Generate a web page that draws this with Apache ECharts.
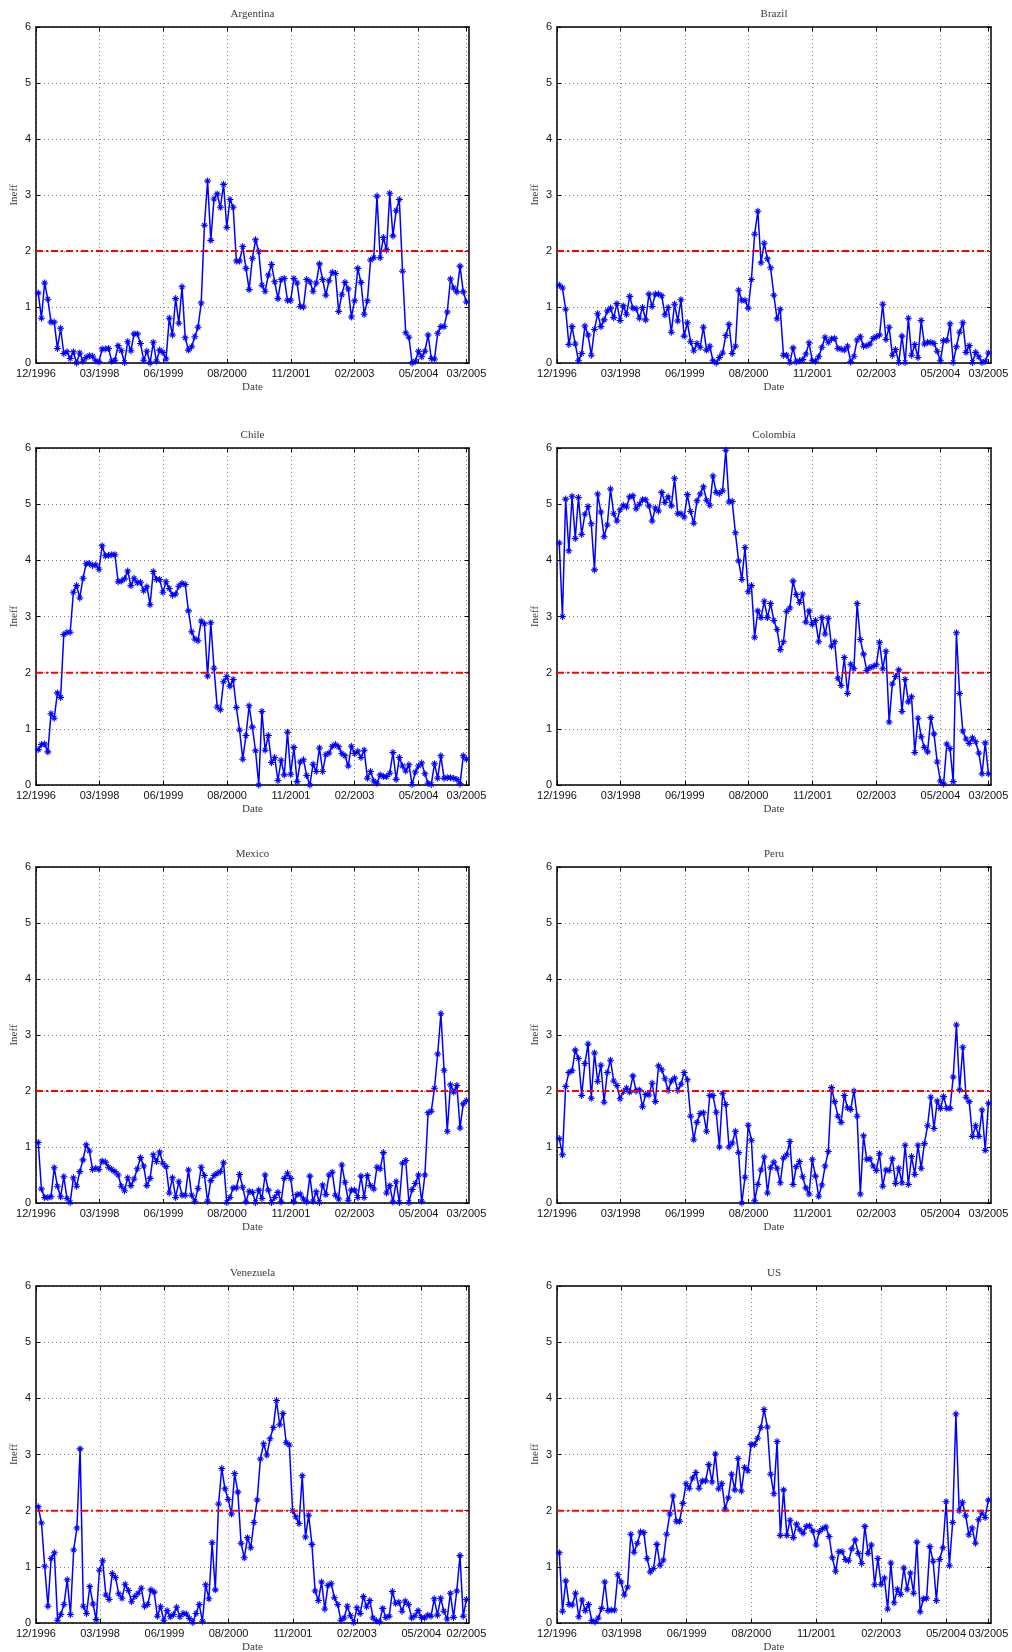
<!DOCTYPE html>
<html>
<head>
<meta charset="utf-8">
<script src="https://cdn.jsdelivr.net/npm/echarts@6/dist/echarts.min.js"></script>
<style>
  html, body { margin: 0; padding: 0; background: #ffffff; }
  #chart { width: 1012px; height: 1652px; }
</style>
</head>
<body>
<div id="chart"></div>
<script>
// Inefficiency measure per country, one observation per sampling date
const argentina = [1.25,0.80,1.43,1.14,0.73,0.73,0.26,0.62,0.17,0.20,
  0.08,0.20,0.00,0.18,0.03,0.10,0.13,0.12,0.04,0.02,
  0.25,0.25,0.26,0.03,0.05,0.31,0.22,0.01,0.38,0.22,
  0.52,0.52,0.35,0.05,0.21,0.00,0.37,0.03,0.23,0.19,
  0.07,0.80,0.50,1.15,0.71,1.36,0.45,0.23,0.29,0.47,
  0.64,1.07,2.46,3.25,2.19,2.93,3.02,2.78,3.19,2.42,
  2.92,2.78,1.82,1.82,2.08,1.69,1.31,1.87,2.20,1.99,
  1.39,1.28,1.57,1.76,1.45,1.15,1.49,1.51,1.12,1.12,
  1.51,1.43,1.01,1.00,1.49,1.45,1.28,1.43,1.77,1.49,
  1.21,1.47,1.62,1.60,0.92,1.22,1.44,1.32,0.82,1.11,
  1.69,1.44,0.87,1.11,1.84,1.88,2.98,1.88,2.24,2.02,
  3.03,2.27,2.72,2.92,1.64,0.54,0.46,0.00,0.03,0.21,
  0.11,0.21,0.50,0.08,0.07,0.53,0.65,0.65,0.91,1.50,
  1.34,1.27,1.73,1.27,1.09];

const brazil = [1.39,1.34,0.96,0.33,0.65,0.34,0.04,0.17,0.66,0.50,
  0.14,0.60,0.88,0.65,0.77,0.93,0.98,0.81,1.06,0.76,
  1.02,0.87,1.19,0.98,0.97,0.80,0.99,0.77,1.23,1.01,
  1.23,1.23,1.20,0.86,0.99,0.55,1.05,0.75,1.13,0.48,
  0.72,0.38,0.22,0.35,0.28,0.64,0.23,0.30,0.04,0.00,
  0.10,0.18,0.49,0.69,0.17,0.30,1.30,1.12,1.12,0.98,
  1.49,2.30,2.71,1.79,2.14,1.86,1.70,1.21,0.79,0.96,
  0.14,0.14,0.01,0.27,0.02,0.04,0.06,0.16,0.36,0.04,
  0.03,0.11,0.28,0.46,0.37,0.43,0.44,0.26,0.25,0.23,
  0.30,0.02,0.12,0.41,0.47,0.30,0.31,0.34,0.44,0.47,
  0.50,1.05,0.42,0.64,0.14,0.24,0.01,0.48,0.01,0.80,
  0.14,0.33,0.10,0.76,0.34,0.37,0.37,0.35,0.21,0.04,
  0.40,0.40,0.70,0.01,0.29,0.55,0.72,0.19,0.31,0.01,
  0.19,0.11,0.01,0.03,0.18];

const chile = [0.63,0.72,0.73,0.59,1.27,1.19,1.64,1.56,2.68,2.72,
  2.72,3.43,3.55,3.33,3.68,3.94,3.94,3.91,3.92,3.84,
  4.26,4.08,4.09,4.10,4.10,3.62,3.63,3.67,3.81,3.55,
  3.68,3.60,3.61,3.46,3.53,3.21,3.80,3.66,3.66,3.43,
  3.62,3.50,3.38,3.40,3.54,3.59,3.57,3.10,2.73,2.60,
  2.57,2.92,2.87,1.94,2.89,2.08,1.39,1.34,1.84,1.93,
  1.76,1.88,1.38,0.98,0.46,0.88,1.41,1.03,0.61,0.00,
  1.31,0.62,0.88,0.40,0.49,0.08,0.44,0.18,0.94,0.19,
  0.67,0.06,0.41,0.45,0.17,0.00,0.37,0.24,0.66,0.24,
  0.54,0.57,0.69,0.72,0.68,0.56,0.52,0.34,0.69,0.56,
  0.60,0.49,0.62,0.12,0.24,0.07,0.03,0.18,0.15,0.15,
  0.21,0.58,0.10,0.49,0.34,0.25,0.36,0.01,0.23,0.34,
  0.39,0.20,0.03,0.01,0.38,0.12,0.52,0.12,0.13,0.13,
  0.12,0.10,0.02,0.52,0.46];

const colombia = [4.31,3.00,5.09,4.17,5.14,4.39,5.12,4.46,4.82,4.96,
  4.65,3.83,5.18,4.86,4.42,4.63,5.27,4.83,4.70,4.90,
  4.98,4.95,5.13,5.15,4.92,5.00,5.08,5.08,4.97,4.70,
  4.93,4.88,5.21,5.03,5.13,4.97,5.46,4.83,4.83,4.77,
  5.17,4.87,4.66,5.06,5.18,5.31,5.07,4.98,5.50,5.21,
  5.19,5.24,5.96,5.04,5.05,4.49,3.99,3.66,4.23,3.44,
  3.55,2.63,3.10,2.98,3.27,2.98,3.23,2.93,2.77,2.41,
  2.55,3.09,3.15,3.63,3.39,3.25,3.40,2.90,3.10,2.86,
  2.93,2.55,2.98,2.69,2.97,2.47,2.55,1.90,1.77,2.27,
  1.63,2.15,2.07,3.23,2.59,2.33,2.04,2.09,2.11,2.14,
  2.54,2.07,2.38,1.12,1.80,1.93,2.05,1.31,1.88,1.48,
  1.57,0.58,1.19,0.86,0.67,0.59,1.20,0.91,0.41,0.07,
  0.02,0.73,0.65,0.06,2.71,1.63,0.96,0.82,0.74,0.84,
  0.77,0.57,0.20,0.75,0.20];

const mexico = [1.08,0.25,0.10,0.10,0.11,0.63,0.30,0.11,0.47,0.08,
  0.01,0.45,0.30,0.56,0.77,1.04,0.93,0.60,0.62,0.60,
  0.75,0.73,0.64,0.60,0.56,0.50,0.30,0.22,0.45,0.31,
  0.43,0.61,0.81,0.66,0.31,0.44,0.86,0.74,0.91,0.71,
  0.65,0.18,0.45,0.10,0.38,0.14,0.14,0.59,0.14,0.03,
  0.26,0.64,0.49,0.03,0.40,0.49,0.53,0.56,0.72,0.01,
  0.10,0.27,0.27,0.51,0.28,0.02,0.21,0.19,0.01,0.23,
  0.08,0.50,0.23,0.01,0.10,0.19,0.02,0.44,0.53,0.44,
  0.02,0.15,0.16,0.07,0.02,0.48,0.03,0.20,0.01,0.32,
  0.15,0.50,0.55,0.14,0.07,0.68,0.37,0.05,0.23,0.23,
  0.10,0.48,0.10,0.49,0.31,0.25,0.64,0.61,0.90,0.18,
  0.31,0.02,0.38,0.01,0.71,0.76,0.01,0.24,0.35,0.50,
  0.03,0.50,1.61,1.64,2.05,2.66,3.38,2.37,1.28,2.11,
  1.98,2.10,1.34,1.77,1.83];

const peru = [1.15,0.86,2.08,2.33,2.36,2.73,2.58,1.92,2.49,2.84,
  1.87,2.68,2.17,2.46,1.80,2.33,2.55,2.18,2.10,1.86,
  1.99,2.05,1.98,2.27,2.00,2.02,1.72,1.94,1.93,2.14,
  1.81,2.45,2.38,2.22,2.01,2.18,2.23,2.01,2.12,2.33,
  2.20,1.55,1.13,1.44,1.60,1.61,1.28,1.92,1.92,1.62,
  1.00,1.96,1.76,1.00,1.07,1.28,0.90,0.00,0.46,1.39,
  1.12,0.04,0.33,0.59,0.82,0.18,0.63,0.73,0.62,0.36,
  0.80,0.86,1.10,0.33,0.65,0.74,0.47,0.27,0.16,0.78,
  0.48,0.12,0.32,0.66,0.92,2.06,1.81,1.55,1.44,1.92,
  1.70,1.67,2.00,1.55,0.16,1.20,0.78,0.79,0.66,0.58,
  0.88,0.30,0.59,0.58,0.79,0.35,0.62,0.36,1.03,0.33,
  0.83,0.51,1.03,0.62,1.06,1.38,1.89,1.33,1.82,1.69,
  1.90,1.69,1.69,2.25,3.18,2.02,2.78,1.89,1.81,1.19,
  1.38,1.19,1.66,0.94,1.78];

// Venezuela stops one period earlier (02/2005)
const venezuela = [2.07,1.78,1.01,0.30,1.15,1.25,0.05,0.15,0.33,0.77,
  0.15,1.30,1.69,3.10,0.30,0.17,0.65,0.34,0.06,0.94,
  1.11,0.50,0.42,0.88,0.81,0.52,0.44,0.69,0.58,0.38,
  0.47,0.53,0.62,0.30,0.33,0.59,0.55,0.12,0.29,0.05,
  0.22,0.11,0.15,0.28,0.11,0.17,0.16,0.08,0.01,0.17,
  0.33,0.03,0.68,0.43,1.43,0.59,2.12,2.75,2.39,2.20,
  1.94,2.66,2.33,1.42,1.16,1.52,1.34,1.79,2.19,2.92,
  3.19,2.99,3.28,3.48,3.96,3.53,3.73,3.21,3.17,2.00,
  1.89,1.77,2.62,1.53,1.92,1.40,0.57,0.40,0.73,0.25,
  0.67,0.70,0.45,0.33,0.05,0.09,0.30,0.13,0.01,0.27,
  0.17,0.47,0.29,0.40,0.09,0.04,0.02,0.26,0.10,0.12,
  0.56,0.35,0.37,0.21,0.39,0.33,0.09,0.13,0.22,0.10,
  0.09,0.14,0.12,0.43,0.14,0.44,0.21,0.07,0.53,0.10,
  0.57,1.20,0.12,0.42];

// US series has two fewer observations over the same span
const us = [1.25,0.21,0.75,0.33,0.32,0.53,0.11,0.41,0.22,0.33,
  0.04,0.02,0.09,0.26,0.73,0.22,0.23,0.23,0.86,0.73,
  0.50,0.64,1.58,1.26,1.42,1.62,1.61,1.15,0.91,0.97,
  1.40,1.03,1.12,1.58,1.94,2.26,1.81,1.81,2.13,2.48,
  2.40,2.58,2.68,2.40,2.53,2.53,2.82,2.51,3.01,2.39,
  2.48,2.03,2.23,2.65,2.37,2.93,2.35,2.77,2.71,3.18,
  3.18,3.29,3.48,3.80,3.49,2.65,2.30,3.23,1.56,2.37,
  1.56,1.83,1.52,1.76,1.66,1.60,1.72,1.73,1.64,1.39,
  1.63,1.68,1.71,1.54,1.16,0.92,1.27,1.27,1.13,1.11,
  1.32,1.48,1.24,1.06,1.72,1.24,1.39,0.68,1.15,0.69,
  0.80,0.25,1.07,0.36,0.60,0.51,0.98,0.60,0.89,0.53,
  1.44,0.20,0.43,0.44,1.36,1.10,0.40,1.13,1.34,2.16,
  1.02,1.79,3.72,2.00,2.15,1.91,1.57,1.69,1.42,1.84,
  1.96,1.88,2.19];

// Date tick labels and where they fall on the observation index
const dateLabels = ['12/1996','03/1998','06/1999','08/2000','11/2001','02/2003','05/2004','03/2005'];
const dateLabelsVenezuela = ['12/1996','03/1998','06/1999','08/2000','11/2001','02/2003','05/2004','02/2005'];
const dateTicks = [-0.7, 19.2, 39.2, 59.1, 79.1, 99.0, 119.0, 134];
const dateTicksVenezuela = [-0.7, 19.2, 39.2, 59.1, 79.1, 99.0, 119.0, 133];
const dateTicksUS = [-0.7, 19.2, 39.2, 59.1, 79.1, 99.0, 119.0, 132];
const indexRange = [-0.7, 134.8];
const indexRangeVenezuela = [-0.7, 133.8];
const indexRangeUS = [-0.7, 132.8];

const yRange = [0, 6];
const yStep = 1;
const threshold = 2;

const panels = [
  { name: 'Argentina', values: argentina, ticks: dateTicks, labels: dateLabels, range: indexRange },
  { name: 'Brazil', values: brazil, ticks: dateTicks, labels: dateLabels, range: indexRange },
  { name: 'Chile', values: chile, ticks: dateTicks, labels: dateLabels, range: indexRange },
  { name: 'Colombia', values: colombia, ticks: dateTicks, labels: dateLabels, range: indexRange },
  { name: 'Mexico', values: mexico, ticks: dateTicks, labels: dateLabels, range: indexRange },
  { name: 'Peru', values: peru, ticks: dateTicks, labels: dateLabels, range: indexRange },
  { name: 'Venezuela', values: venezuela, ticks: dateTicksVenezuela, labels: dateLabelsVenezuela, range: indexRangeVenezuela },
  { name: 'US', values: us, ticks: dateTicksUS, labels: dateLabels, range: indexRangeUS }
];

// Plot boxes: two columns, four rows
const colLeft = [36, 557];
const colWidth = [433, 434];
const rowTop = [27, 448, 867, 1286];
const rowHeight = [336, 337, 336, 337];

const serif = "'Liberation Serif','DejaVu Serif','Times New Roman',serif";
const sans = "'Liberation Sans','Arial','DejaVu Sans',sans-serif";
const dotted = { show: true, lineStyle: { color: '#808080', width: 1, type: [1, 3] } };
const boxLine = { show: true, onZero: false, lineStyle: { color: '#000000', width: 1.5 } };

// eight-armed asterisk marker
const asterisk = 'path://M-10 -1.5L10 -1.5L10 1.5L-10 1.5Z' +
  'M-1.5 -10L1.5 -10L1.5 10L-1.5 10Z' +
  'M-5.3 -7.42L7.42 5.3L5.3 7.42L-7.42 -5.3Z' +
  'M-7.42 5.3L5.3 -7.42L7.42 -5.3L-5.3 7.42Z';

const grids = [], xAxes = [], yAxes = [], series = [];

panels.forEach((p, k) => {
  const col = k % 2, row = Math.floor(k / 2);
  grids.push({
    left: colLeft[col], top: rowTop[row], width: colWidth[col], height: rowHeight[row],
    containLabel: false, outerBoundsMode: 'none'
  });

  const labelFor = (v) => {
    for (let j = 0; j < p.ticks.length; j++) {
      if (Math.abs(p.ticks[j] - v) < 1e-6) return p.labels[j];
    }
    return '';
  };

  // bottom axis with dates
  xAxes.push({
    gridIndex: k, type: 'value', position: 'bottom',
    min: p.range[0], max: p.range[1],
    name: 'Date', nameLocation: 'middle', nameGap: 19,
    nameTextStyle: { fontFamily: serif, fontSize: 11, color: '#3a3a3a' },
    axisLine: boxLine,
    axisTick: { show: true, inside: true, length: 4, lineStyle: { color: '#000', width: 1 }, customValues: p.ticks },
    axisLabel: { customValues: p.ticks, formatter: labelFor, fontFamily: sans, fontSize: 11, color: '#111', margin: 5 },
    splitLine: dotted
  });
  // top edge carries the country title
  xAxes.push({
    gridIndex: k, type: 'value', position: 'top',
    min: p.range[0], max: p.range[1],
    name: p.name, nameLocation: 'middle', nameGap: 7,
    nameTextStyle: { fontFamily: serif, fontSize: 11, color: '#3a3a3a' },
    axisLine: boxLine,
    axisTick: { show: true, inside: true, length: 4, lineStyle: { color: '#000', width: 1 }, customValues: p.ticks },
    axisLabel: { show: false },
    splitLine: { show: false }
  });

  yAxes.push({
    gridIndex: k, type: 'value', position: 'left',
    min: yRange[0], max: yRange[1], interval: yStep,
    name: 'Ineff', nameLocation: 'middle', nameGap: 16,
    nameTextStyle: { fontFamily: serif, fontSize: 11, color: '#3a3a3a' },
    axisLine: boxLine,
    axisTick: { show: true, inside: true, length: 4, lineStyle: { color: '#000', width: 1 } },
    axisLabel: { fontFamily: sans, fontSize: 11, color: '#111', margin: 5 },
    splitLine: dotted
  });
  yAxes.push({
    gridIndex: k, type: 'value', position: 'right',
    min: yRange[0], max: yRange[1], interval: yStep,
    axisLine: boxLine,
    axisTick: { show: true, inside: true, length: 4, lineStyle: { color: '#000', width: 1 } },
    axisLabel: { show: false },
    splitLine: { show: false }
  });

  series.push({
    type: 'line', xAxisIndex: 2 * k, yAxisIndex: 2 * k,
    data: p.values.map((v, i) => [i, v]),
    symbol: asterisk, symbolSize: 7, showAllSymbol: true, clip: false,
    lineStyle: { color: '#0000ff', width: 1.5 },
    itemStyle: { color: '#0000ff' },
    z: 3, silent: true
  });
  // reference level
  series.push({
    type: 'line', xAxisIndex: 2 * k, yAxisIndex: 2 * k,
    data: [[p.range[0], threshold], [p.range[1], threshold]],
    symbol: 'none',
    lineStyle: { color: '#ff0000', width: 2, type: [7, 3, 2, 3] },
    z: 4, silent: true
  });
});

const chart = echarts.init(document.getElementById('chart'), null, { renderer: 'canvas' });
chart.setOption({
  animation: false,
  backgroundColor: '#ffffff',
  grid: grids,
  xAxis: xAxes,
  yAxis: yAxes,
  series: series
});
</script>
</body>
</html>
